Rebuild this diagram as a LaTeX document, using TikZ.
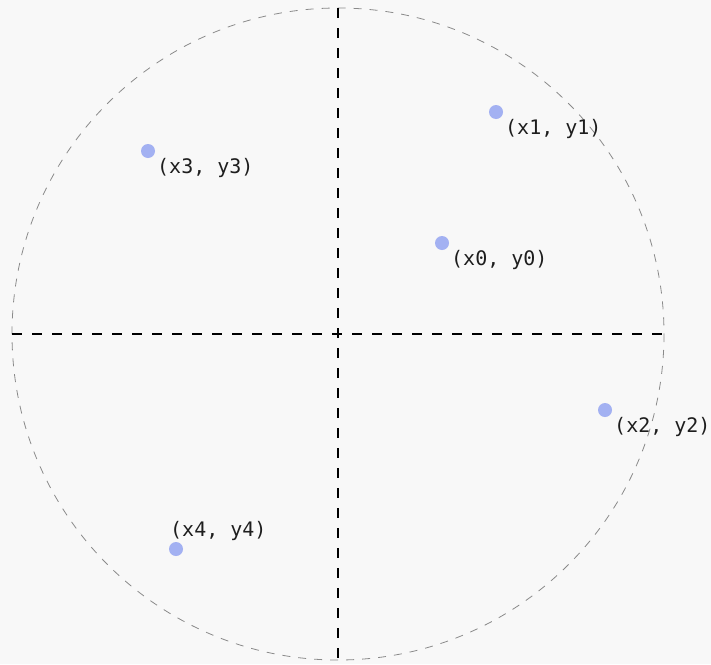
\documentclass[tikz,border=0pt]{standalone}
\usepackage{fontspec}
\setmonofont{DejaVu Sans Mono}
\usetikzlibrary{positioning}
\definecolor{bg}{HTML}{F8F8F8}
\definecolor{dotblue}{HTML}{A3B1F2}
\definecolor{ringgray}{HTML}{8A8A8A}
\definecolor{ink}{HTML}{1E1E1E}
\begin{document}
\begin{tikzpicture}[x=1pt,y=-1pt,
 ring/.style={draw=ringgray,line width=0.8pt,dash pattern=on 8pt off 8pt},
 axis/.style={draw=black,line width=1.8pt,dash pattern=on 10pt off 10pt},
 pt/.style={circle,fill=dotblue,inner sep=0pt,minimum size=14pt},
 lbl/.style={font=\ttfamily\fontsize{20}{22}\selectfont,text=ink,inner sep=0pt}]
\fill[bg] (0,0) rectangle (711,664);
\useasboundingbox (0,0) rectangle (711,664);
\coordinate (o) at (338,334);
\draw[ring] (o) circle[radius=326];
% axes
\coordinate (w) at (12,334);
\coordinate (e) at (664,334);
\coordinate (n) at (338,8);
\coordinate (s) at (338,662);
\draw[axis] (w) -- (e);
\draw[axis] (n) -- (s);
% points
\node[pt] (p0) at (442,243) {};
\node[pt] (p1) at (496,112) {};
\node[pt] (p2) at (605,410) {};
\node[pt] (p3) at (148,151) {};
\node[pt] (p4) at (176,549) {};
\node[lbl,anchor=west] (l0) at ([shift={(9,17)}]p0) {(x0, y0)};
\node[lbl,anchor=west] (l1) at ([shift={(9,17)}]p1) {(x1, y1)};
\node[lbl,anchor=west] (l2) at ([shift={(9,17)}]p2) {(x2, y2)};
\node[lbl,anchor=west] (l3) at ([shift={(9,17)}]p3) {(x3, y3)};
\node[lbl,anchor=west] (l4) at ([shift={(-6,-18)}]p4) {(x4, y4)};
\end{tikzpicture}
\end{document}
